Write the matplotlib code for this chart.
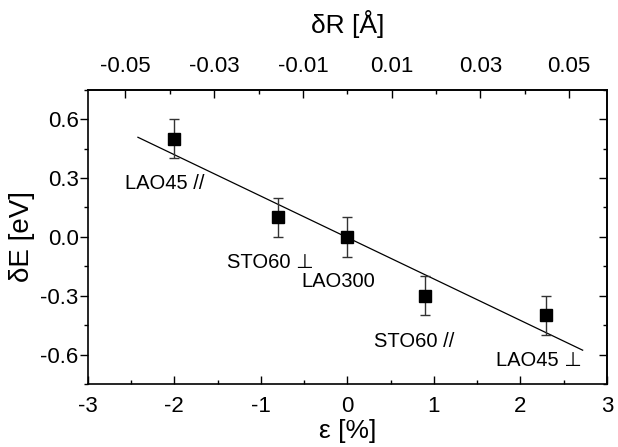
import numpy as np
import matplotlib
matplotlib.use('Agg')
import matplotlib.pyplot as plt
from matplotlib.ticker import MultipleLocator

plt.rcParams['font.family'] = ['Liberation Sans', 'DejaVu Sans']

# data
strain = [-2.0, -0.8, 0.0, 0.9, 2.3]
energy = [0.5, 0.1, 0.0, -0.3, -0.4]
energy_err = [0.1, 0.1, 0.1, 0.1, 0.1]
labels = ['LAO45 //', 'STO60 \u22a5', 'LAO300', 'STO60 //', 'LAO45 \u22a5']
label_x = [-2.57, -1.39, -0.53, 0.31, 1.72]
label_y = [0.242, -0.16, -0.258, -0.563, -0.66]
fit_range = [-2.42, 2.72]
bond = 0.0195  # dR per 1 % strain

xticks = [-3, -2, -1, 0, 1, 2, 3]
yticks = [-0.6, -0.3, 0.0, 0.3, 0.6]
ytick_labels = ['-0.6', '-0.3', '0.0', '0.3', '0.6']
top_ticks = [-0.05, -0.03, -0.01, 0.01, 0.03, 0.05]

# fit
slope, intercept = np.polyfit(strain, energy, 1)
fit_x = np.linspace(fit_range[0], fit_range[1], 2)
fit_y = np.polyval([slope, intercept], fit_x)

fig = plt.figure(figsize=(6.18, 4.47), dpi=100)
ax = fig.add_axes([0.142, 0.141, 0.840, 0.658])

ax.plot(fit_x, fit_y, color='black', lw=0.9)
ax.errorbar(strain, energy, yerr=energy_err, fmt='s', color='black', ms=8,
            ecolor='#333333', elinewidth=1.0, capsize=3.6, capthick=1.0)

for t, x, y in zip(labels, label_x, label_y):
    ax.text(x, y, t, ha='left', va='baseline', fontsize=14.5)

ax.set_xlim(-3, 3)
ax.set_ylim(-0.75, 0.75)
ax.set_xticks(xticks)
ax.set_xticklabels([str(v) for v in xticks])
ax.xaxis.set_minor_locator(MultipleLocator(0.5))
ax.set_yticks(yticks)
ax.set_yticklabels(ytick_labels)
ax.yaxis.set_minor_locator(MultipleLocator(0.15))

ax.tick_params(axis='x', which='both', direction='in', top=False)
ax.tick_params(axis='y', which='both', direction='out', right=False)
ax.tick_params(which='major', length=5.5, width=1.0, labelsize=16)
ax.tick_params(which='minor', length=3, width=1.0)
ax.tick_params(axis='x', which='major', pad=9)
ax.tick_params(axis='y', which='major', pad=1)

# right axis ticks pointing in
ax_r = ax.secondary_yaxis('right')
ax_r.set_yticks(yticks)
ax_r.yaxis.set_minor_locator(MultipleLocator(0.15))
ax_r.tick_params(which='both', direction='in', labelright=False)
ax_r.tick_params(which='major', length=5.5, width=1.0)
ax_r.tick_params(which='minor', length=3, width=1.0)

# top axis in dR
ax_t = ax.secondary_xaxis('top', functions=(lambda e: e * bond, lambda r: r / bond))
ax_t.set_xticks(top_ticks)
ax_t.set_xticklabels([f'{v:.2f}' for v in top_ticks])
ax_t.xaxis.set_minor_locator(MultipleLocator(0.01))
ax_t.tick_params(which='both', direction='in')
ax_t.tick_params(which='major', length=5.5, width=1.0, labelsize=16, pad=9)
ax_t.tick_params(which='minor', length=3, width=1.0)
ax_t.set_xlabel('\u03b4R [\u00c5]', fontsize=19, labelpad=17)

for s in ax.spines.values():
    s.set_linewidth(1.2)
ax_r.spines['right'].set_linewidth(1.2)
ax_t.spines['top'].set_linewidth(1.2)

ax.set_xlabel('\u03b5 [%]', fontsize=19, labelpad=1)
ax.set_ylabel('\u03b4E [eV]', fontsize=20, labelpad=4)

fig.savefig('out.png', dpi=100)
